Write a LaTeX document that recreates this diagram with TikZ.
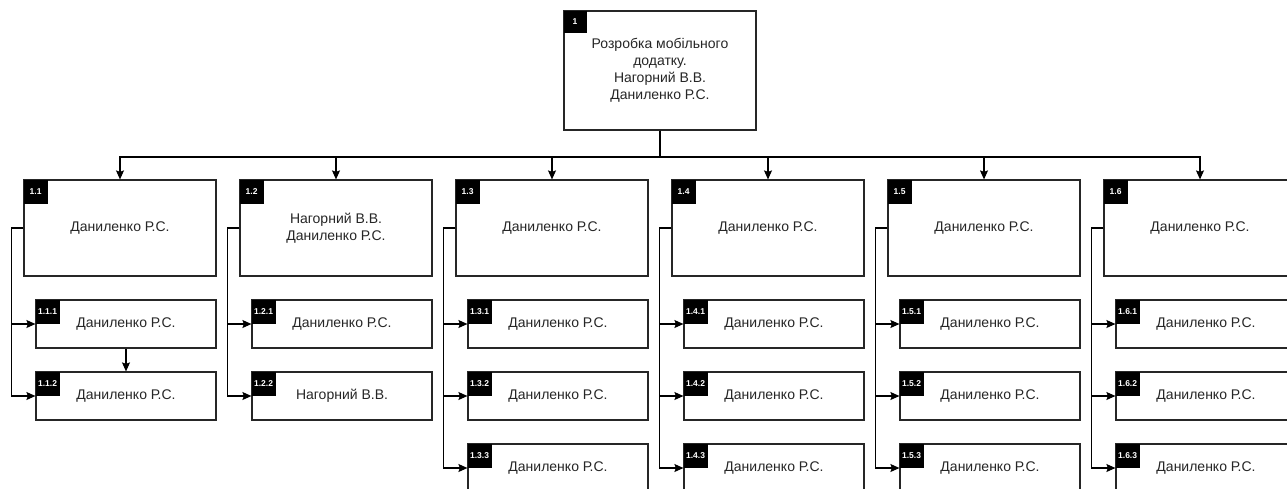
\documentclass[tikz,border=0pt]{standalone}
\usepackage{fontspec}
\setmainfont{Liberation Sans}
\usetikzlibrary{arrows.meta}
\begin{document}
\begin{tikzpicture}[x=1pt,y=-1pt,
  box/.style={draw=black!85, line width=1.2pt, fill=white, align=center,
    text=black!85, font=\fontsize{14}{17}\selectfont, inner sep=0pt},
  main/.style={box, minimum width=192pt, minimum height=96pt},
  sub/.style={box, minimum width=180pt, minimum height=48pt},
  tag/.style={fill=black, text=white, font=\fontsize{8.5}{8.5}\bfseries\selectfont,
    minimum size=24pt, inner sep=0pt, anchor=north west},
  link/.style={line width=1.1pt},
  arr/.style={link, -{Stealth[length=9pt,width=8pt,inset=1.5pt]}}]
\clip (0,0) rectangle (1287,488);
\fill[white] (0,0) rectangle (1287,488);

% root of the work breakdown
\node[box, minimum width=192pt, minimum height=119pt] (top) at (660,70.5)
  {Розробка мобільного\\додатку.\\Нагорний В.В.\\Даниленко Р.С.};
\node[tag, minimum width=23pt, minimum height=22pt] at (top.north west) {1};
\coordinate (bus) at (0,157);

% second level
\node[main] (b1) at (120,228) {Даниленко Р.С.};
\node[main] (b2) at (336,228) {Нагорний В.В.\\Даниленко Р.С.};
\node[main] (b3) at (552,228) {Даниленко Р.С.};
\node[main] (b4) at (768,228) {Даниленко Р.С.};
\node[main] (b5) at (984,228) {Даниленко Р.С.};
\node[main] (b6) at (1200,228) {Даниленко Р.С.};
\foreach \k in {1,...,6} {
  \node[tag] at (b\k.north west) {1.\k};
  \draw[arr] (top.south) -- (top.south |- bus) -| (b\k.north);
}

% third level
\node[sub] (c11) at (126,324) {Даниленко Р.С.};
\node[sub] (c12) at (126,396) {Даниленко Р.С.};
\node[sub] (c21) at (342,324) {Даниленко Р.С.};
\node[sub] (c22) at (342,396) {Нагорний В.В.};
\foreach \k/\x in {3/558,4/774,5/990,6/1206} {
  \node[sub] (c\k1) at (\x,324) {Даниленко Р.С.};
  \node[sub] (c\k2) at (\x,396) {Даниленко Р.С.};
  \node[sub] (c\k3) at (\x,468) {Даниленко Р.С.};
}
\foreach \k in {1,2} {
  \foreach \j in {1,2} {
    \node[tag] at (c\k\j.north west) {1.\k.\j};
    \draw[arr] (b\k.west) -- ++(-12,0) |- (c\k\j.west);
  }
}
\foreach \k in {3,...,6} {
  \foreach \j in {1,2,3} {
    \node[tag] at (c\k\j.north west) {1.\k.\j};
    \draw[arr] (b\k.west) -- ++(-12,0) |- (c\k\j.west);
  }
}
\draw[arr] (c11.south) -- (c12.north);
\end{tikzpicture}
\end{document}
